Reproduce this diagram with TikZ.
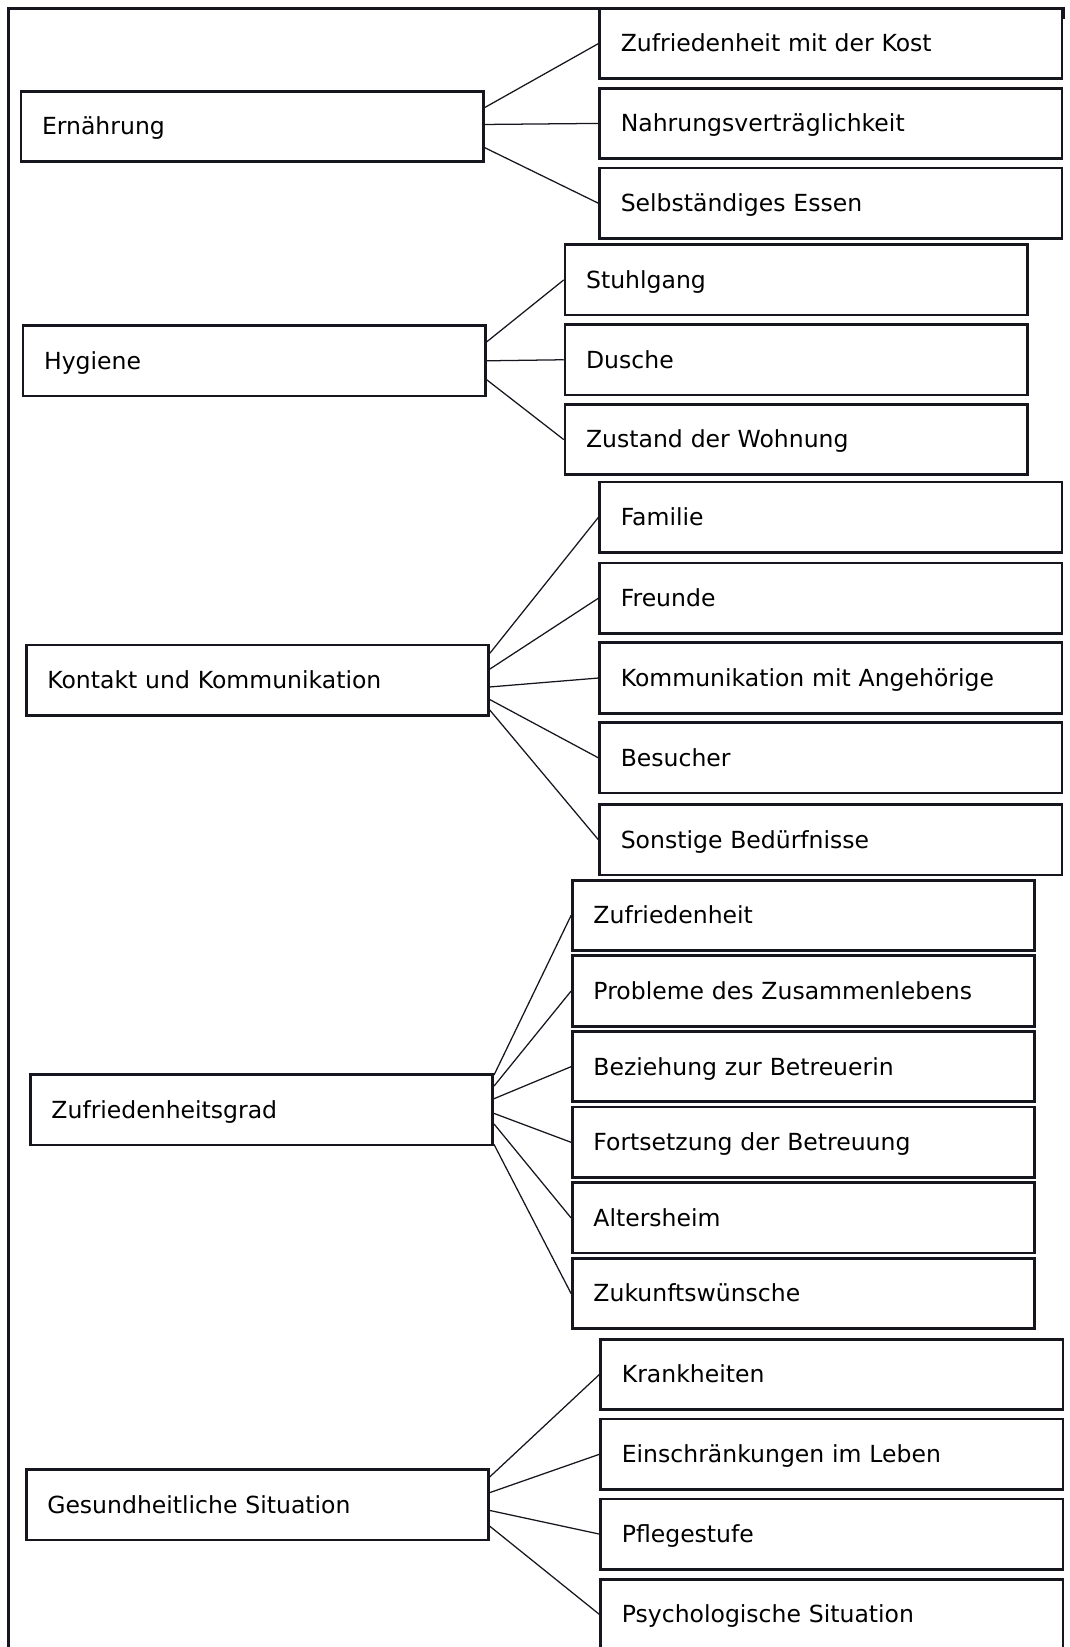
\documentclass[tikz,border=0pt]{standalone}
\usepackage{fontspec}
\setmainfont{DejaVu Sans}
\usepackage{tikz}
\usepackage{xcolor}
\definecolor{boxline}{HTML}{16161F}
\tikzset{%
    thema/.style={%
        draw=boxline, line width=1.3pt, rectangle,
        minimum height=33.5pt, text width=200pt, inner xsep=10pt,
        text height=8pt, text depth=0pt,
        align=left, font=\fontsize{11.2}{13}\selectfont
    },
    link/.style={draw=boxline, line width=0.6pt},
    rahmen/.style={draw=boxline, line width=1.3pt}
}

\begin{document}
\begin{tikzpicture}[x=0.5pt,y=-0.5pt]
	\useasboundingbox (0,0) rectangle (1018,1568);
	\draw[rahmen] (1013,18) -- (1013,8) -- (8,8) -- (8,1590);

	\node[thema] (E) at (240,120.5) {Ernährung};
	\node[thema] (E1) at (791,41.5) {Zufriedenheit mit der Kost};
	\node[thema] (E2) at (791,117.5) {Nahrungsverträglichkeit};
	\node[thema] (E3) at (791,193.5) {Selbständiges Essen};

	\node[thema] (H) at (242,343.5) {Hygiene};
	\node[thema] (H1) at (758,266.5) {Stuhlgang};
	\node[thema] (H2) at (758,342.5) {Dusche};
	\node[thema] (H3) at (758,418.5) {Zustand der Wohnung};

	\node[thema] (K) at (245,647.5) {Kontakt und Kommunikation};
	\node[thema] (K1) at (791,492.5) {Familie};
	\node[thema] (K2) at (791,569.5) {Freunde};
	\node[thema] (K3) at (791,645.5) {Kommunikation mit Angehörige};
	\node[thema] (K4) at (791,721.5) {Besucher};
	\node[thema] (K5) at (791,799.5) {Sonstige Bedürfnisse};

	\node[thema] (Z) at (249,1056.5) {Zufriedenheitsgrad};
	\node[thema] (Z1) at (765,871.5) {Zufriedenheit};
	\node[thema] (Z2) at (765,943.5) {Probleme des Zusammenlebens};
	\node[thema] (Z3) at (765,1015.5) {Beziehung zur Betreuerin};
	\node[thema] (Z4) at (765,1087.5) {Fortsetzung der Betreuung};
	\node[thema] (Z5) at (765,1159.5) {Altersheim};
	\node[thema] (Z6) at (765,1231.5) {Zukunftswünsche};

	\node[thema] (G) at (245,1432.5) {Gesundheitliche Situation};
	\node[thema] (G1) at (792,1308.5) {Krankheiten};
	\node[thema] (G2) at (792,1384.5) {Einschränkungen im Leben};
	\node[thema] (G3) at (792,1460.5) {Pflegestufe};
	\node[thema] (G4) at (792,1537) {Psychologische Situation};

	\draw[link] ([yshift=9pt]E.east) -- (E1.west);
	\draw[link] ([yshift=1pt]E.east) -- (E2.west);
	\draw[link] ([yshift=-10pt]E.east) -- (E3.west);

	\draw[link] ([yshift=9pt]H.east) -- (H1.west);
	\draw[link] ([yshift=0pt]H.east) -- (H2.west);
	\draw[link] ([yshift=-9pt]H.east) -- (H3.west);

	\draw[link] ([yshift=12.75pt]K.east) -- (K1.west);
	\draw[link] ([yshift=5.25pt]K.east) -- (K2.west);
	\draw[link] ([yshift=-3.25pt]K.east) -- (K3.west);
	\draw[link] ([yshift=-9.25pt]K.east) -- (K4.west);
	\draw[link] ([yshift=-14.25pt]K.east) -- (K5.west);

	\draw[link] ([yshift=16.5pt]Z.east) -- (Z1.west);
	\draw[link] ([yshift=11.25pt]Z.east) -- (Z2.west);
	\draw[link] ([yshift=5.25pt]Z.east) -- (Z3.west);
	\draw[link] ([yshift=-1.75pt]Z.east) -- (Z4.west);
	\draw[link] ([yshift=-6.75pt]Z.east) -- (Z5.west);
	\draw[link] ([yshift=-16.5pt]Z.east) -- (Z6.west);

	\draw[link] ([yshift=13.25pt]G.east) -- (G1.west);
	\draw[link] ([yshift=5.75pt]G.east) -- (G2.west);
	\draw[link] ([yshift=-2.75pt]G.east) -- (G3.west);
	\draw[link] ([yshift=-10.25pt]G.east) -- (G4.west);
\end{tikzpicture}
\end{document}
